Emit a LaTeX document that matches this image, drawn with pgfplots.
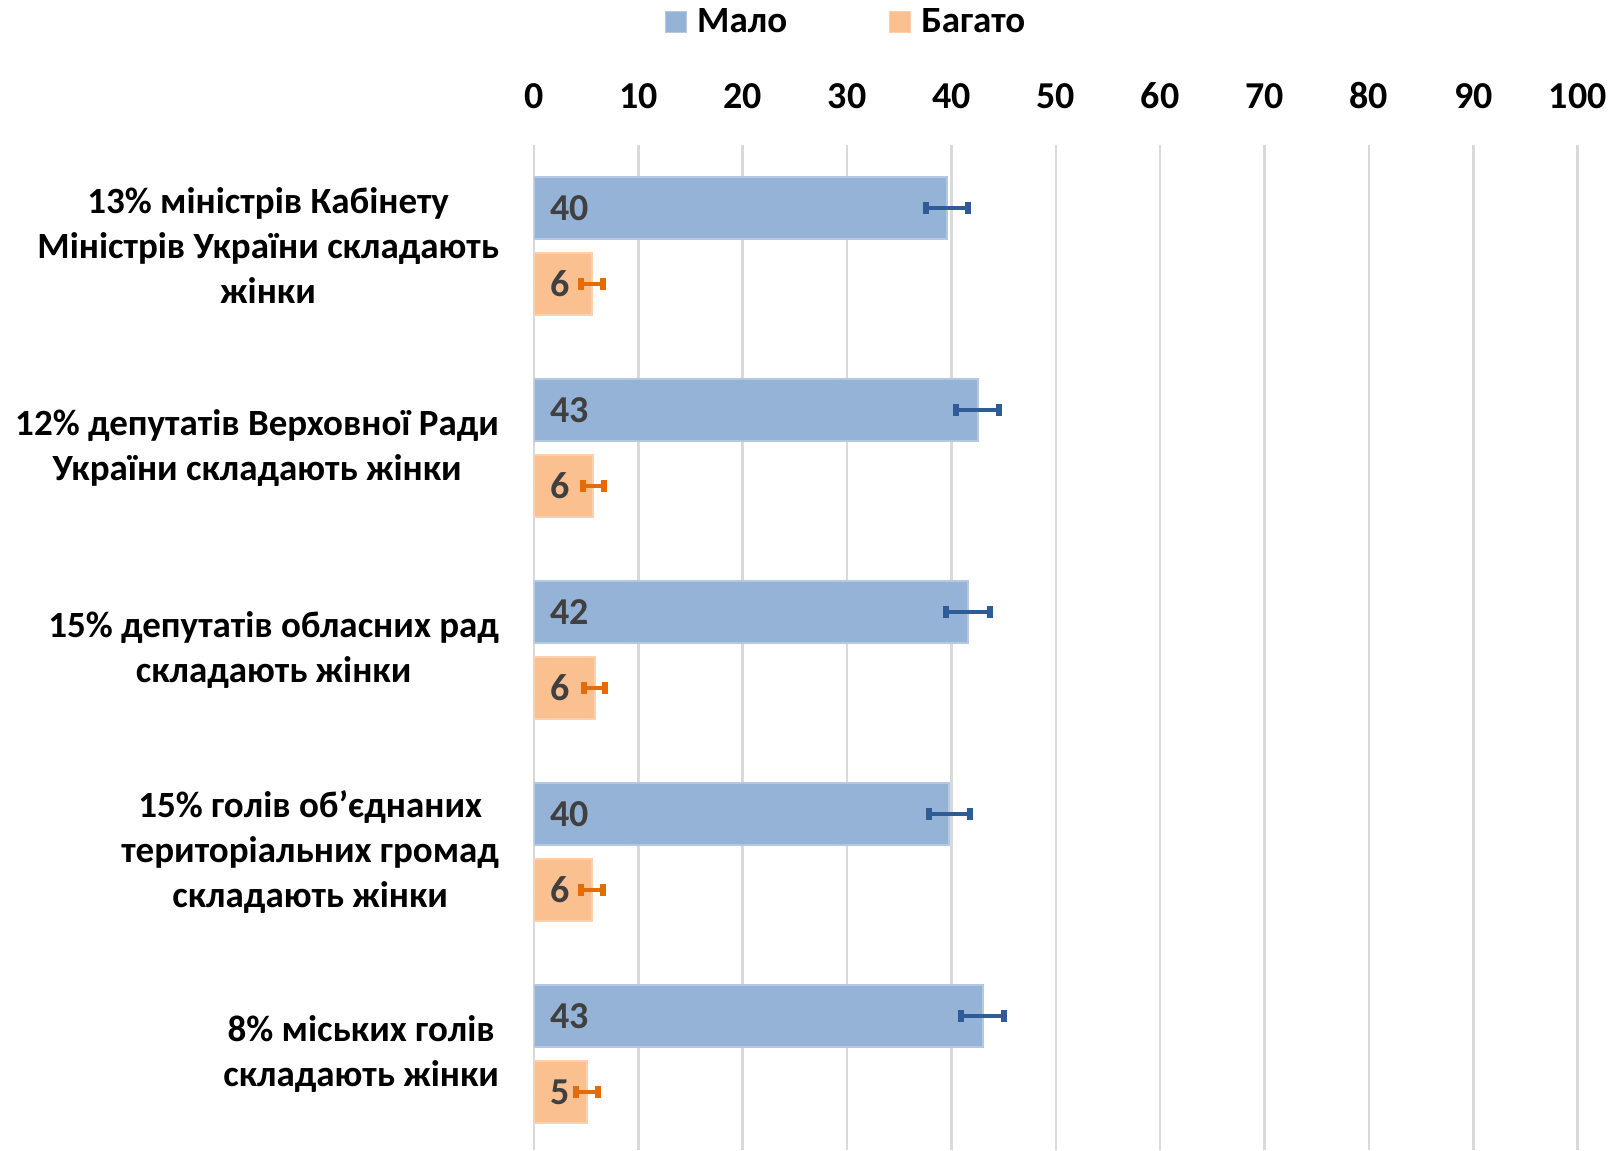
\documentclass[border=0pt]{standalone}
\usepackage{fontspec}
\setmainfont{Carlito}
\usepackage{pgfplots}
\pgfplotsset{compat=1.18}
\definecolor{bluefill}{HTML}{95B3D7}
\definecolor{blueedge}{HTML}{B4C8E4}
\definecolor{orfill}{HTML}{FAC090}
\definecolor{oredge}{HTML}{FCD0AD}
\definecolor{blueerr}{HTML}{2F5C96}
\definecolor{orerr}{HTML}{E36C09}
\definecolor{gridc}{HTML}{D9D9D9}
\definecolor{lbl}{HTML}{404040}
\begin{document}
\begin{tikzpicture}
\begin{axis}[
  name=ax,
  scale only axis,
  width=521.85pt, height=502.5pt,
  xmin=0, xmax=100,
  ymin=-0.5, ymax=4.475,
  y dir=reverse,
  axis line style={draw=none},
  major tick style={draw=none},
  minor tick style={draw=none},
  xtick={0,10,...,100},
  xticklabel pos=upper,
  xmajorgrids,
  grid style={gridc, line width=1.25pt},
  ytick={0,1,2,3,4},
  yticklabels={{13\% міністрів Кабінету\\Міністрів України складають\\жінки},
               {12\% депутатів Верховної Ради\\України складають жінки},
               {15\% депутатів обласних рад\\складають жінки},
               {15\% голів об’єднаних\\територіальних громад\\складають жінки},
               {8\% міських голів\\складають жінки}},
  yticklabel style={align=center, font=\fontsize{18.5}{22.5}\selectfont\bfseries, xshift=-14pt},
  xticklabel style={font=\fontsize{19}{22}\selectfont\bfseries, yshift=14.5pt},
  /pgf/number format/assume math mode=true,
  unbounded coords=jump,
  legend style={at={(0.1255,1.1224)}, anchor=west, draw=none, fill=none,
    inner sep=0pt, outer sep=0pt, legend columns=2,
    font=\fontsize{18.5}{21}\selectfont\bfseries,
    nodes={inner sep=0pt},
    /tikz/every odd column/.append style={column sep=5pt},
    /tikz/every even column/.append style={column sep=51pt}},
]
\addplot[forget plot, xbar, bar width=0.31, bar shift=-0.188, fill=bluefill, draw=blueedge, line width=1pt]
  table[x=v, y=c]{
c v
0 39.6
1 42.5
2 41.6
3 39.8
4 43.0
};
\addplot[forget plot, xbar, bar width=0.31, bar shift=0.188, fill=orfill, draw=oredge, line width=1pt]
  table[x=v, y=c]{
c v
0 5.6
1 5.7
2 5.8
3 5.6
4 5.1
};
% error bars: value - error to value + error, drawn at the bar centres
\addplot[forget plot, blueerr, line width=2.3pt, mark=|, mark size=3pt,
  mark options={line width=3pt, solid, draw=blueerr}]
  coordinates {(37.6,-0.188) (41.6,-0.188) (nan,nan)
               (40.4,0.812) (44.6,0.812) (nan,nan)
               (39.5,1.812) (43.7,1.812) (nan,nan)
               (37.8,2.812) (41.8,2.812) (nan,nan)
               (40.95,3.812) (45.05,3.812)};
\addplot[forget plot, orerr, line width=2.3pt, mark=|, mark size=3pt,
  mark options={line width=3pt, solid, draw=orerr}]
  coordinates {(4.55,0.188) (6.65,0.188) (nan,nan)
               (4.65,1.188) (6.75,1.188) (nan,nan)
               (4.75,2.188) (6.85,2.188) (nan,nan)
               (4.55,3.188) (6.65,3.188) (nan,nan)
               (4.05,4.188) (6.15,4.188)};
\addplot[forget plot, only marks, mark=*, mark size=0pt,
  scatter/use mapped color={draw=none, fill=none},
  nodes near coords, point meta=explicit symbolic,
  every node near coord/.style={anchor=west, inner sep=0pt, xshift=8pt,
    font=\fontsize{19}{21}\selectfont\bfseries, text=lbl}]
  coordinates {(0,-0.188)[40] (0,0.812)[43] (0,1.812)[42] (0,2.812)[40] (0,3.812)[43]};
\addplot[forget plot, only marks, mark=*, mark size=0pt,
  scatter/use mapped color={draw=none, fill=none},
  nodes near coords, point meta=explicit symbolic,
  every node near coord/.style={anchor=west, inner sep=0pt, xshift=8pt,
    font=\fontsize{19}{21}\selectfont\bfseries, text=lbl}]
  coordinates {(0,0.188)[6] (0,1.188)[6] (0,2.188)[6] (0,3.188)[6] (0,4.188)[5]};
\addlegendimage{legend image code/.code={\draw[fill=bluefill, draw=blueedge, line width=0.6pt] (0pt,-5.25pt) rectangle (10.5pt,5.25pt);}}
\addlegendentry{Мало}
\addlegendimage{legend image code/.code={\draw[fill=orfill, draw=oredge, line width=0.6pt] (0pt,-5.25pt) rectangle (10.5pt,5.25pt);}}
\addlegendentry{Багато}
\end{axis}
\pgfresetboundingbox
\path ([xshift=-267pt]ax.south west) rectangle ([xshift=18.15pt,yshift=72.5pt]ax.north east);
\end{tikzpicture}
\end{document}
